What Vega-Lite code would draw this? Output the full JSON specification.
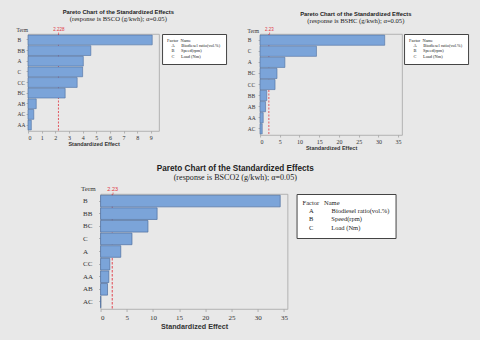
{
  "$schema": "https://vega.github.io/schema/vega-lite/v6.json",
  "background": "#e8e8e8",
  "padding": {"left": 15, "top": 8, "right": 12, "bottom": 12},
  "datasets": {
    "bsco": [
      {"term": "B", "effect": 9.1},
      {"term": "BB", "effect": 4.6},
      {"term": "A", "effect": 4.05},
      {"term": "C", "effect": 4.0},
      {"term": "CC", "effect": 3.6},
      {"term": "BC", "effect": 2.72},
      {"term": "AB", "effect": 0.6},
      {"term": "AC", "effect": 0.42},
      {"term": "AA", "effect": 0.24}
    ],
    "bshc": [
      {"term": "B", "effect": 31.6},
      {"term": "C", "effect": 14.3},
      {"term": "A", "effect": 6.3},
      {"term": "BC", "effect": 4.3},
      {"term": "CC", "effect": 3.8},
      {"term": "BB", "effect": 1.7},
      {"term": "AB", "effect": 1.4},
      {"term": "AA", "effect": 0.8},
      {"term": "AC", "effect": 0.55}
    ],
    "bsco2": [
      {"term": "B", "effect": 34.3},
      {"term": "BB", "effect": 10.8},
      {"term": "BC", "effect": 9.05},
      {"term": "C", "effect": 6.0},
      {"term": "A", "effect": 3.86},
      {"term": "CC", "effect": 1.77},
      {"term": "AA", "effect": 1.58},
      {"term": "AB", "effect": 1.33},
      {"term": "AC", "effect": 0.05}
    ],
    "factors": [
      {"factor": "A", "name": "Biodiesel ratio(vol.%)", "label_s": "A\u00a0\u00a0\u00a0\u00a0\u00a0\u00a0Biodiesel ratio(vol.%)", "label_l": "A\u00a0\u00a0\u00a0\u00a0\u00a0\u00a0\u00a0\u00a0\u00a0\u00a0\u00a0Biodiesel ratio(vol.%)"},
      {"factor": "B", "name": "Speed(rpm)", "label_s": "B\u00a0\u00a0\u00a0\u00a0\u00a0\u00a0Speed(rpm)", "label_l": "B\u00a0\u00a0\u00a0\u00a0\u00a0\u00a0\u00a0\u00a0\u00a0\u00a0\u00a0Speed(rpm)"},
      {"factor": "C", "name": "Load (Nm)", "label_s": "C\u00a0\u00a0\u00a0\u00a0\u00a0\u00a0Load (Nm)", "label_l": "C\u00a0\u00a0\u00a0\u00a0\u00a0\u00a0\u00a0\u00a0\u00a0\u00a0\u00a0Load (Nm)"}
    ],
    "crit3": [{"crit": 2.228}],
    "crit2": [{"crit": 2.23}]
  },
  "config": {
    "view": {"fill": "white", "stroke": "#a6a6a6", "strokeWidth": 0.8},
    "axis": {"grid": false, "domain": false, "labelColor": "#333333", "titleColor": "#333333", "tickColor": "#8c8c8c", "tickWidth": 0.6}
  },
  "spacing": 12,
  "center": true,
  "resolve": {"scale": {"color": "independent"}, "legend": {"color": "independent"}},
  "vconcat": [
    {
      "spacing": 19,
      "resolve": {"scale": {"color": "independent"}, "legend": {"color": "independent"}},
      "hconcat": [
        {
          "width": 131,
          "height": 97,
          "title": {"text": "Pareto Chart of the Standardized Effects", "subtitle": "(response is BSCO (g/kwh); α=0.05)", "font": "Liberation Sans", "fontWeight": "bold", "fontSize": 5.8, "color": "#222222", "subtitleFont": "Liberation Serif", "subtitleFontSize": 6.6, "subtitleColor": "#222222", "subtitlePadding": 1, "frame": "bounds", "anchor": "middle", "offset": 4, "dx": -3},
          "layer": [
            {
              "data": {"name": "crit3"},
              "mark": {"type": "rule", "color": "#e0353f", "strokeDash": [2, 1.5], "strokeWidth": 0.8},
              "encoding": {"x": {"field": "crit", "type": "quantitative", "scale": {"domain": [0, 9.6], "nice": false}, "axis": {"orient": "top", "values": [2.228], "format": ".3f", "labelColor": "#e0353f", "labelFont": "Liberation Sans", "labelFontSize": 4.5, "tickColor": "#e0353f", "tickSize": 2, "labelPadding": 0.5, "title": null}}}
            },
            {
              "data": {"name": "bsco"},
              "mark": {"type": "bar", "fill": "#7ba4d9", "stroke": "#4d6f9f", "strokeWidth": 0.6},
              "encoding": {
                "x": {"field": "effect", "type": "quantitative", "scale": {"domain": [0, 9.6], "nice": false}, "axis": {"values": [0, 1, 2, 3, 4, 5, 6, 7, 8, 9], "format": "d", "labelFont": "Liberation Serif", "labelFontSize": 6, "tickSize": 2, "labelPadding": 1, "title": "Standardized Effect", "titleFont": "Liberation Sans", "titleFontWeight": "bold", "titleFontSize": 5.5, "titlePadding": 1}},
                "y": {"field": "term", "type": "nominal", "sort": "-x", "scale": {"paddingInner": 0.08, "paddingOuter": 0.1}, "axis": {"title": "Term", "titleAngle": 0, "titleAlign": "left", "titleBaseline": "alphabetic", "titleX": -12, "titleY": -2.5, "titleFont": "Liberation Serif", "titleFontWeight": "normal", "titleFontSize": 5.5, "labelAlign": "left", "labelPadding": 9, "tickSize": 2, "labelFont": "Liberation Serif", "labelFontSize": 5.5}}
              }
            },
            {
              "data": {"name": "factors"},
              "mark": {"type": "point", "opacity": 0},
              "encoding": {"color": {"field": "label_s", "type": "nominal", "legend": {"orient": "right", "offset": 3, "title": "Factor\u00a0\u00a0Name", "titleFont": "Liberation Serif", "titleFontWeight": "normal", "titleFontSize": 4.4, "titleColor": "#222222", "titlePadding": 0.5, "labelFont": "Liberation Serif", "labelFontSize": 4.4, "labelColor": "#222222", "symbolSize": 0, "symbolStrokeWidth": 0, "symbolOpacity": 0, "labelOffset": 0, "padding": 5, "rowPadding": 0.3, "fillColor": "white", "strokeColor": "#444444"}}}
            }
          ],
          "resolve": {"axis": {"x": "independent"}}
        },
        {
          "width": 142,
          "height": 101,
          "title": {"text": "Pareto Chart of the Standardized Effects", "subtitle": "(response is BSHC (g/kwh); α=0.05)", "font": "Liberation Sans", "fontWeight": "bold", "fontSize": 5.8, "color": "#222222", "subtitleFont": "Liberation Serif", "subtitleFontSize": 6.6, "subtitleColor": "#222222", "subtitlePadding": 1, "frame": "bounds", "anchor": "middle", "offset": 2, "dx": -2},
          "layer": [
            {
              "data": {"name": "crit2"},
              "mark": {"type": "rule", "color": "#e0353f", "strokeDash": [2, 1.5], "strokeWidth": 0.8},
              "encoding": {"x": {"field": "crit", "type": "quantitative", "scale": {"domain": [0, 36], "nice": false}, "axis": {"orient": "top", "values": [2.23], "format": ".2f", "labelColor": "#e0353f", "labelFont": "Liberation Sans", "labelFontSize": 4.5, "tickColor": "#e0353f", "tickSize": 2, "labelPadding": 0.5, "title": null}}}
            },
            {
              "data": {"name": "bshc"},
              "mark": {"type": "bar", "fill": "#7ba4d9", "stroke": "#4d6f9f", "strokeWidth": 0.6},
              "encoding": {
                "x": {"field": "effect", "type": "quantitative", "scale": {"domain": [0, 36], "nice": false}, "axis": {"values": [0, 5, 10, 15, 20, 25, 30, 35], "format": "d", "labelFont": "Liberation Serif", "labelFontSize": 6, "tickSize": 2, "labelPadding": 1, "title": "Standardized Effect", "titleFont": "Liberation Sans", "titleFontWeight": "bold", "titleFontSize": 5.5, "titlePadding": 1}},
                "y": {"field": "term", "type": "nominal", "sort": "-x", "scale": {"paddingInner": 0.08, "paddingOuter": 0.1}, "axis": {"title": "Term", "titleAngle": 0, "titleAlign": "left", "titleBaseline": "alphabetic", "titleX": -13, "titleY": -2, "titleFont": "Liberation Serif", "titleFontWeight": "normal", "titleFontSize": 5.5, "labelAlign": "left", "labelPadding": 10.8, "tickSize": 2, "labelFont": "Liberation Serif", "labelFontSize": 5.5}}
              }
            },
            {
              "data": {"name": "factors"},
              "mark": {"type": "point", "opacity": 0},
              "encoding": {"color": {"field": "label_s", "type": "nominal", "legend": {"orient": "right", "offset": 2, "title": "Factor\u00a0\u00a0Name", "titleFont": "Liberation Serif", "titleFontWeight": "normal", "titleFontSize": 4.4, "titleColor": "#222222", "titlePadding": 0.5, "labelFont": "Liberation Serif", "labelFontSize": 4.4, "labelColor": "#222222", "symbolSize": 0, "symbolStrokeWidth": 0, "symbolOpacity": 0, "labelOffset": 0, "padding": 5, "rowPadding": 0.3, "fillColor": "white", "strokeColor": "#444444"}}}
            }
          ],
          "resolve": {"axis": {"x": "independent"}}
        }
      ]
    },
    {
      "width": 187,
      "height": 115,
      "title": {"text": "Pareto Chart of the Standardized Effects", "subtitle": "(response is BSCO2 (g/kwh); α=0.05)", "font": "Liberation Sans", "fontWeight": "bold", "fontSize": 8.2, "color": "#222222", "subtitleFont": "Liberation Serif", "subtitleFontSize": 8.1, "subtitleColor": "#222222", "subtitlePadding": 1.5, "frame": "bounds", "anchor": "middle", "offset": 1, "dx": -3},
      "layer": [
        {
          "data": {"name": "crit2"},
          "mark": {"type": "rule", "color": "#e0353f", "strokeDash": [2.5, 1.5], "strokeWidth": 0.9},
          "encoding": {"x": {"field": "crit", "type": "quantitative", "scale": {"domain": [0, 35.7], "nice": false}, "axis": {"orient": "top", "values": [2.23], "format": ".2f", "labelColor": "#e0353f", "labelFont": "Liberation Sans", "labelFontSize": 5.5, "tickColor": "#e0353f", "tickSize": 2, "labelPadding": 0.5, "title": null}}}
        },
        {
          "data": {"name": "bsco2"},
          "mark": {"type": "bar", "fill": "#7ba4d9", "stroke": "#4d6f9f", "strokeWidth": 0.7},
          "encoding": {
            "x": {"field": "effect", "type": "quantitative", "scale": {"domain": [0, 35.7], "nice": false}, "axis": {"values": [0, 5, 10, 15, 20, 25, 30, 35], "format": "d", "labelFont": "Liberation Serif", "labelFontSize": 7, "tickSize": 2.5, "labelPadding": 1.5, "title": "Standardized Effect", "titleFont": "Liberation Sans", "titleFontWeight": "bold", "titleFontSize": 7.2, "titlePadding": 2}},
            "y": {"field": "term", "type": "nominal", "sort": "-x", "scale": {"paddingInner": 0.08, "paddingOuter": 0.1}, "axis": {"title": "Term", "titleAngle": 0, "titleAlign": "left", "titleBaseline": "alphabetic", "titleX": -20, "titleY": -3.5, "titleFont": "Liberation Serif", "titleFontWeight": "normal", "titleFontSize": 7, "labelAlign": "left", "labelPadding": 16, "tickSize": 2, "labelFont": "Liberation Serif", "labelFontSize": 7}}
          }
        },
        {
          "data": {"name": "factors"},
          "mark": {"type": "point", "opacity": 0},
          "encoding": {"color": {"field": "label_l", "type": "nominal", "legend": {"orient": "right", "offset": 9, "title": "Factor\u00a0\u00a0\u00a0Name", "titleFont": "Liberation Serif", "titleFontWeight": "normal", "titleFontSize": 6.5, "titleColor": "#222222", "titlePadding": 1.5, "labelFont": "Liberation Serif", "labelFontSize": 6.5, "labelColor": "#222222", "symbolSize": 0, "symbolStrokeWidth": 0, "symbolOpacity": 0, "labelOffset": 0, "padding": 6, "rowPadding": 1.2, "fillColor": "white", "strokeColor": "#444444"}}}
        }
      ],
      "resolve": {"axis": {"x": "independent"}}
    }
  ]
}
